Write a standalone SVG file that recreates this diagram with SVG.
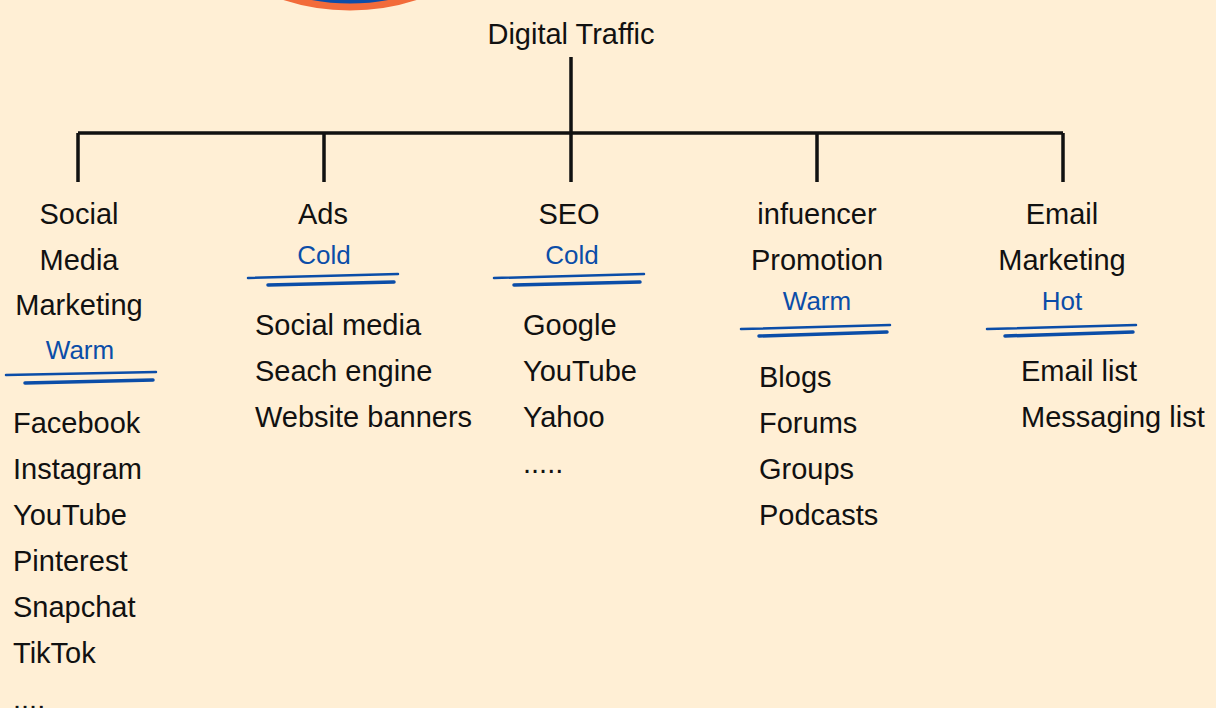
<svg xmlns="http://www.w3.org/2000/svg" width="1216" height="708" viewBox="0 0 1216 708">
<style>
.t{font-family:"Liberation Sans",Arial,sans-serif;font-size:29px;fill:#111}
.c{text-anchor:middle}
.tag{font-family:"Liberation Sans",Arial,sans-serif;font-size:26px;fill:#0B4DA8;text-anchor:middle}
.ln{stroke:#111;stroke-width:3.5;fill:none}
.ul{stroke:#0B4DA8;fill:none;stroke-linecap:round}
</style>
<rect width="1216" height="708" fill="#FFEFD5"/>
<circle cx="350" cy="-206" r="213" fill="#0B4DA8" stroke="#F26B3A" stroke-width="7"/>
<g id="connectors">
<path class="ln" d="M571 57V133M78 133H1063M78 133V182M324 133V182M571 133V182M817 133V182M1063 133V182"/>
</g>
<g id="root"><text class="t c" x="571" y="44">Digital Traffic</text></g>
<g id="social">
<text class="t c" x="79" y="224">Social</text>
<text class="t c" x="79" y="270">Media</text>
<text class="t c" x="79" y="315">Marketing</text>
<text class="tag" x="80" y="359">Warm</text>
<path class="ul" stroke-width="2.5" d="M6 375L156 372"/>
<path class="ul" stroke-width="3.5" d="M25 383L153 380"/>
<text class="t" x="13" y="433">Facebook</text>
<text class="t" x="13" y="479">Instagram</text>
<text class="t" x="13" y="525">YouTube</text>
<text class="t" x="13" y="571">Pinterest</text>
<text class="t" x="13" y="617">Snapchat</text>
<text class="t" x="13" y="663">TikTok</text>
<text class="t" x="13" y="709">....</text>
</g>
<g id="ads">
<text class="t c" x="323" y="224">Ads</text>
<text class="tag" x="324" y="264">Cold</text>
<path class="ul" stroke-width="2.5" d="M248 278L398 274"/>
<path class="ul" stroke-width="3.5" d="M268 285L394 282"/>
<text class="t" x="255" y="335">Social media</text>
<text class="t" x="255" y="381">Seach engine</text>
<text class="t" x="255" y="427">Website banners</text>
</g>
<g id="seo">
<text class="t c" x="569" y="224">SEO</text>
<text class="tag" x="572" y="264">Cold</text>
<path class="ul" stroke-width="2.5" d="M494 278L644 274"/>
<path class="ul" stroke-width="3.5" d="M514 285L640 282"/>
<text class="t" x="523" y="335">Google</text>
<text class="t" x="523" y="381">YouTube</text>
<text class="t" x="523" y="427">Yahoo</text>
<text class="t" x="523" y="473">.....</text>
</g>
<g id="influencer">
<text class="t c" x="817" y="224">infuencer</text>
<text class="t c" x="817" y="270">Promotion</text>
<text class="tag" x="817" y="310">Warm</text>
<path class="ul" stroke-width="2.5" d="M741 329L890 325"/>
<path class="ul" stroke-width="3.5" d="M759 336L887 332"/>
<text class="t" x="759" y="387">Blogs</text>
<text class="t" x="759" y="433">Forums</text>
<text class="t" x="759" y="479">Groups</text>
<text class="t" x="759" y="525">Podcasts</text>
</g>
<g id="email">
<text class="t c" x="1062" y="224">Email</text>
<text class="t c" x="1062" y="270">Marketing</text>
<text class="tag" x="1062" y="310">Hot</text>
<path class="ul" stroke-width="2.5" d="M987 329L1136 325"/>
<path class="ul" stroke-width="3.5" d="M1005 336L1133 332"/>
<text class="t" x="1021" y="381">Email list</text>
<text class="t" x="1021" y="427">Messaging list</text>
</g>
</svg>
